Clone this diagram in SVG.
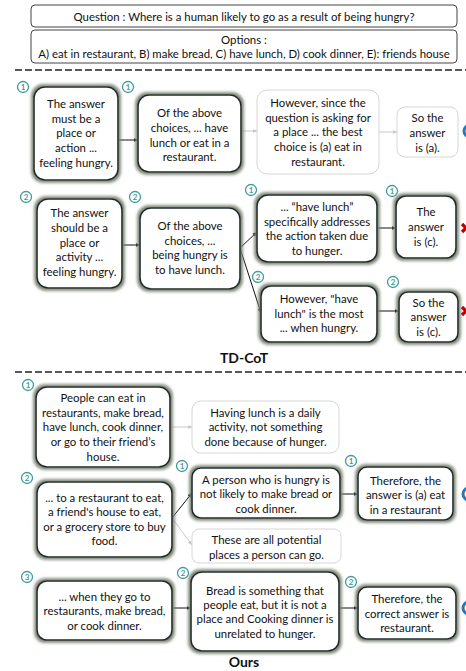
<svg xmlns="http://www.w3.org/2000/svg" width="466" height="671" viewBox="0 0 466 671">
<style>
text{font-family:Lato,"Liberation Sans",sans-serif;font-size:11.4px;fill:#111;text-anchor:middle}
.top{fill:#fff;stroke:#444;stroke-width:1}
.dark{fill:#fff;stroke:#1f2a2a;stroke-width:1.6;filter:url(#halo)}
.light{fill:#fff;stroke:#d6d6d6;stroke-width:1}
.dash{stroke:#222;stroke-width:1.4;stroke-dasharray:7 3;fill:none}
.c{stroke:#111;stroke-width:1;fill:none;marker-end:url(#ah)}
.g{stroke:#c8c8c8;stroke-width:1;fill:none;marker-end:url(#ahg)}
.badge circle{fill:#fff;stroke:#3f9b9c;stroke-width:1.3}
.badge text{font-size:8px;font-weight:bold;fill:#3f9b9c}
.title{font-size:14px;font-weight:bold}
</style>
<defs>
<filter id="halo" x="-20%" y="-20%" width="140%" height="140%">
<feMorphology in="SourceAlpha" operator="dilate" radius="1.8" result="d"/>
<feGaussianBlur in="d" stdDeviation="1.6" result="b"/>
<feFlood flood-color="#7d8575"/>
<feComposite in2="b" operator="in" result="s"/>
<feMerge><feMergeNode in="s"/><feMergeNode in="SourceGraphic"/></feMerge>
</filter>
<marker id="ah" markerWidth="5" markerHeight="5" refX="4.5" refY="2.5" orient="auto" markerUnits="userSpaceOnUse"><path d="M0,0.5 L5,2.5 L0,4.5Z" fill="#111"/></marker>
<marker id="ahg" markerWidth="5" markerHeight="5" refX="4.5" refY="2.5" orient="auto" markerUnits="userSpaceOnUse"><path d="M0,0.5 L5,2.5 L0,4.5Z" fill="#c8c8c8"/></marker>
</defs>
<rect width="466" height="671" fill="#fff"/>

<g id="question"><rect class="top" x="31" y="5" width="426" height="22" rx="4"/><text x="244" y="21">Question : Where is a human likely to go as a result of being hungry?</text></g>
<g id="options"><rect class="top" x="31" y="30" width="426" height="33" rx="4"/><text x="244" y="44">Options :</text><text x="244" y="58">A) eat in restaurant, B) make bread, C) have lunch,  D) cook dinner, E): friends house</text></g>

<path class="dash" d="M15,70 H466"/>
<path class="dash" d="M15,372 H466"/>

<g id="connectors">
<path class="c" d="M118,140 H138"/>
<path class="g" d="M241,131 H257"/>
<path class="g" d="M379,132 H397"/>
<path class="c" d="M122,245 H140"/>
<path class="c" d="M240,248 L257,232"/>
<path class="c" d="M240,248 L261,313"/>
<path class="c" d="M377,228 H396"/>
<path class="c" d="M377,311 H399"/>
<path class="g" d="M170,427 H192"/>
<path class="c" d="M172,518 L192,493"/>
<path class="g" d="M172,518 L192,545"/>
<path class="c" d="M340,494 H358"/>
<path class="c" d="M172,608 H191"/>
<path class="c" d="M339,608 H358"/>
</g>

<g id="td1a"><rect class="dark" x="34" y="87" width="84" height="93" rx="11"/>
<text x="76" y="108">The answer</text><text x="76" y="123">must be a</text><text x="76" y="137">place or</text><text x="76" y="152">action ...</text><text x="76" y="167">feeling hungry.</text></g>
<g id="td1b"><rect class="dark" x="138" y="95" width="103" height="77" rx="11"/>
<text x="189.5" y="117">Of the above</text><text x="189.5" y="132">choices, ... have</text><text x="189.5" y="147">lunch or eat in a</text><text x="189.5" y="161">restaurant.</text></g>
<g id="td1c"><rect class="light" x="257" y="90" width="122" height="84" rx="10"/>
<text x="318" y="107">However, since the</text><text x="318" y="122">question is asking for</text><text x="318" y="136">a place ... the best</text><text x="318" y="151">choice is (a) eat in</text><text x="318" y="166">restaurant.</text></g>
<g id="td1d"><rect class="light" x="397" y="107" width="61" height="50" rx="8"/>
<text x="427.5" y="122">So the</text><text x="427.5" y="137">answer</text><text x="427.5" y="152">is (a).</text></g>
<circle cx="470" cy="131" r="6" fill="none" stroke="#2e75b6" stroke-width="3"/>

<g id="td2a"><rect class="dark" x="37" y="199" width="85" height="89" rx="11"/>
<text x="79.5" y="217">The answer</text><text x="79.5" y="232">should be a</text><text x="79.5" y="247">place or</text><text x="79.5" y="261">activity ...</text><text x="79.5" y="276">feeling hungry.</text></g>
<g id="td2b"><rect class="dark" x="140" y="208" width="100" height="81" rx="11"/>
<text x="190" y="230">Of the above</text><text x="190" y="245">choices, ...</text><text x="190" y="259">being hungry is</text><text x="190" y="274">to have lunch.</text></g>
<g id="td2c"><rect class="dark" x="257" y="195" width="120" height="67" rx="11"/>
<text x="317" y="211">... “have lunch”</text><text x="317" y="226">specifically addresses</text><text x="317" y="240">the action taken due</text><text x="317" y="255">to hunger.</text></g>
<g id="td2d"><rect class="dark" x="396" y="196" width="60" height="62" rx="10"/>
<text x="426" y="216">The</text><text x="426" y="231">answer</text><text x="426" y="246">is (c).</text></g>
<g id="td2e"><rect class="dark" x="261" y="286" width="116" height="56" rx="10"/>
<text x="319" y="303">However, "have</text><text x="319" y="318">lunch" is the most</text><text x="319" y="332">... when hungry.</text></g>
<g id="td2f"><rect class="dark" x="399" y="292" width="59" height="50" rx="9"/>
<text x="428.5" y="307">So the</text><text x="428.5" y="321">answer</text><text x="428.5" y="336">is (c).</text></g>
<path d="M462,224 L470,232 M470,224 L462,232" stroke="#c00000" stroke-width="3.2"/>
<path d="M462,307 L470,315 M470,307 L462,315" stroke="#c00000" stroke-width="3.2"/>

<text class="title" x="244" y="363">TD-CoT</text>

<g id="o1a"><rect class="dark" x="36" y="387" width="134" height="80" rx="11"/>
<text x="103" y="402">People can eat in</text><text x="103" y="417">restaurants, make bread,</text><text x="103" y="431">have lunch, cook dinner,</text><text x="103" y="446">or go to their friend’s</text><text x="103" y="461">house.</text></g>
<g id="o1g"><rect class="light" x="192" y="401" width="147" height="52" rx="9"/>
<text x="265.5" y="417">Having lunch is a daily</text><text x="265.5" y="431">activity, not something</text><text x="265.5" y="446">done because of hunger.</text></g>
<g id="o2a"><rect class="dark" x="37" y="482" width="135" height="75" rx="11"/>
<text x="104.5" y="502">... to a restaurant to eat,</text><text x="104.5" y="516">a friend's house to eat,</text><text x="104.5" y="531">or a grocery store to buy</text><text x="104.5" y="545">food.</text></g>
<g id="o2b"><rect class="dark" x="192" y="468" width="148" height="50" rx="9"/>
<text x="266" y="484">A person who is hungry is</text><text x="266" y="498">not likely to make bread or</text><text x="266" y="513">cook dinner.</text></g>
<g id="o2g"><rect class="light" x="192" y="529" width="149" height="34" rx="7"/>
<text x="266.5" y="544">These are all potential</text><text x="266.5" y="559">places a person can go.</text></g>
<g id="o2c"><rect class="dark" x="358" y="467" width="95" height="53" rx="9"/>
<text x="405.5" y="485">Therefore, the</text><text x="405.5" y="499">answer is (a) eat</text><text x="405.5" y="514">in a restaurant</text></g>
<circle cx="469" cy="494" r="6" fill="none" stroke="#2e75b6" stroke-width="3"/>
<g id="o3a"><rect class="dark" x="37" y="581" width="135" height="59" rx="10"/>
<text x="104.5" y="601">... when they go to</text><text x="104.5" y="615">restaurants, make bread,</text><text x="104.5" y="630">or cook dinner.</text></g>
<g id="o3b"><rect class="dark" x="191" y="572" width="148" height="79" rx="11"/>
<text x="265" y="595">Bread is something that</text><text x="265" y="609">people eat, but it is not a</text><text x="265" y="623">place and Cooking dinner is</text><text x="265" y="638">unrelated to hunger.</text></g>
<g id="o3c"><rect class="dark" x="358" y="587" width="98" height="52" rx="9"/>
<text x="407" y="603">Therefore, the</text><text x="407" y="618">correct answer is</text><text x="407" y="632">restaurant.</text></g>
<circle cx="469" cy="608" r="6" fill="none" stroke="#2e75b6" stroke-width="3"/>

<text class="title" x="244" y="667">Ours</text>

<g id="badges">
<g class="badge"><circle cx="23" cy="87" r="5.5"/><text x="23" y="90">1</text></g>
<g class="badge"><circle cx="128" cy="87" r="5.5"/><text x="128" y="90">1</text></g>
<g class="badge"><circle cx="26" cy="197" r="5.5"/><text x="26" y="200">2</text></g>
<g class="badge"><circle cx="135" cy="197" r="5.5"/><text x="135" y="200">2</text></g>
<g class="badge"><circle cx="251" cy="190" r="5.5"/><text x="251" y="193">1</text></g>
<g class="badge"><circle cx="392" cy="191" r="5.5"/><text x="392" y="194">1</text></g>
<g class="badge"><circle cx="258" cy="277" r="5.5"/><text x="258" y="280">2</text></g>
<g class="badge"><circle cx="393" cy="282" r="5.5"/><text x="393" y="285">2</text></g>
<g class="badge"><circle cx="28" cy="385" r="5.5"/><text x="28" y="388">1</text></g>
<g class="badge"><circle cx="27" cy="478" r="5.5"/><text x="27" y="481">2</text></g>
<g class="badge"><circle cx="182" cy="466" r="5.5"/><text x="182" y="469">1</text></g>
<g class="badge"><circle cx="351" cy="461" r="5.5"/><text x="351" y="464">1</text></g>
<g class="badge"><circle cx="27" cy="577" r="5.5"/><text x="27" y="580">3</text></g>
<g class="badge"><circle cx="183" cy="573" r="5.5"/><text x="183" y="576">2</text></g>
<g class="badge"><circle cx="351" cy="582" r="5.5"/><text x="351" y="585">2</text></g>
</g>
</svg>
